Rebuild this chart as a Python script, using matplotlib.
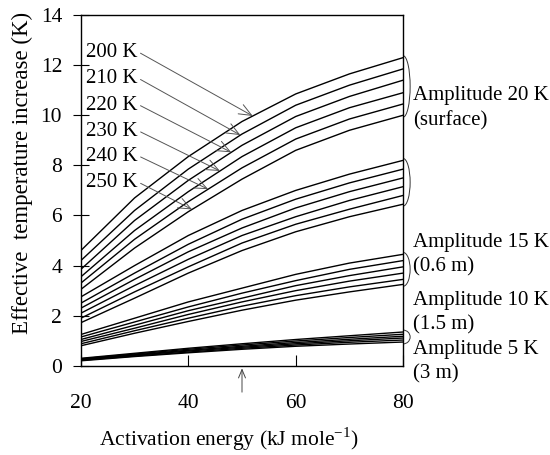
import numpy as np
import matplotlib
matplotlib.use("Agg")
import matplotlib.pyplot as plt
from matplotlib.patches import Arc

plt.rcParams["font.family"] = ["Liberation Serif", "DejaVu Serif"]
plt.rcParams["mathtext.fontset"] = "custom"
plt.rcParams["mathtext.rm"] = "Liberation Serif"

# activation energy (kJ/mol) where the curves were read
energy = [20, 30, 40, 50, 60, 70, 80]
temp_labels = ["200 K", "210 K", "220 K", "230 K", "240 K", "250 K"]

# effective temperature increase (K), one row per mean temperature 200..250 K
amp20 = [
    [4.60, 6.70, 8.35, 9.75, 10.85, 11.65, 12.30],
    [4.20, 6.20, 7.85, 9.25, 10.40, 11.20, 11.85],
    [3.85, 5.80, 7.40, 8.80, 9.95, 10.75, 11.40],
    [3.55, 5.40, 6.95, 8.35, 9.50, 10.30, 10.90],
    [3.30, 5.05, 6.55, 7.90, 9.05, 9.85, 10.45],
    [3.05, 4.70, 6.15, 7.45, 8.60, 9.40, 10.00],
]
amp15 = [
    [2.75, 4.00, 5.20, 6.20, 7.00, 7.65, 8.20],
    [2.50, 3.70, 4.85, 5.85, 6.65, 7.30, 7.85],
    [2.30, 3.45, 4.55, 5.50, 6.30, 6.95, 7.50],
    [2.10, 3.20, 4.25, 5.20, 5.95, 6.60, 7.15],
    [1.90, 2.95, 3.95, 4.90, 5.65, 6.25, 6.80],
    [1.72, 2.70, 3.70, 4.60, 5.35, 5.95, 6.45],
]
amp10 = [
    [1.25, 1.90, 2.55, 3.10, 3.65, 4.10, 4.45],
    [1.15, 1.75, 2.35, 2.90, 3.40, 3.85, 4.20],
    [1.05, 1.62, 2.20, 2.70, 3.20, 3.60, 3.95],
    [0.97, 1.50, 2.05, 2.55, 3.00, 3.38, 3.70],
    [0.88, 1.40, 1.90, 2.38, 2.80, 3.15, 3.45],
    [0.80, 1.30, 1.77, 2.22, 2.62, 2.95, 3.25],
]
amp5 = [
    [0.30, 0.50, 0.70, 0.88, 1.05, 1.20, 1.35],
    [0.28, 0.47, 0.66, 0.83, 0.99, 1.13, 1.26],
    [0.26, 0.44, 0.62, 0.78, 0.93, 1.06, 1.18],
    [0.24, 0.42, 0.59, 0.74, 0.88, 1.00, 1.11],
    [0.22, 0.39, 0.55, 0.70, 0.83, 0.94, 1.03],
    [0.20, 0.37, 0.52, 0.66, 0.78, 0.87, 0.95],
]
groups = [amp20, amp15, amp10, amp5]
group_labels = ["Amplitude 20 K\n(surface)", "Amplitude 15 K\n(0.6 m)",
                "Amplitude 10 K\n(1.5 m)", "Amplitude 5 K\n(3 m)"]

# where each temperature arrow hits its curve of the 20 K group
arrow_x = [52.0, 49.7, 48.0, 45.9, 43.7, 40.7]

fig = plt.figure(figsize=(5.5, 4.55), dpi=100)
ax = fig.add_axes([0.147, 0.196, 0.586, 0.771])

for grp in groups:
    for row in grp:
        ax.plot(energy, row, color="black", lw=1.0)

ax.set_xlim(20, 80)
ax.set_ylim(0, 14)
ax.set_xticks([20, 40, 60, 80])
ax.set_yticks(range(0, 15, 2))
ax.tick_params(axis="x", direction="in", length=8, pad=20, labelsize=15.5)
ax.tick_params(axis="y", direction="inout", length=11, pad=8, labelsize=15.5,
               right=False)
for sp in ax.spines.values():
    sp.set_linewidth(1.0)

ax.set_xlabel("Activation energy (kJ mole$^{\\mathregular{-1}}$)", fontsize=15.5)
ax.xaxis.set_label_coords(0.46, -0.17)
ax.set_ylabel("Effective  temperature increase (K)", fontsize=16.5)
ax.yaxis.set_label_coords(-0.15, 0.55)

# temperature labels with arrows pointing at the 20 K curves
label_y = [12.5, 11.45, 10.4, 9.35, 8.35, 7.3]
for i, lab in enumerate(temp_labels):
    tip_y = np.interp(arrow_x[i], energy, amp20[i])
    ax.annotate(lab, xy=(arrow_x[i], tip_y), xytext=(21.0, label_y[i]),
                ha="left", va="center", fontsize=15,
                arrowprops=dict(arrowstyle="->,head_length=0.6,head_width=0.25",
                                color="#555555", lw=0.7, relpos=(1.0, 0.55),
                                shrinkA=0, shrinkB=0))

# brackets and amplitude labels to the right of the plot
text_y = [10.27, 4.44, 2.12, 0.17]
for grp, lab, ty in zip(groups, group_labels, text_y):
    top = grp[0][-1]
    bot = grp[-1][-1]
    arc = Arc((80, (top + bot) / 2), 2.6, (top - bot) + 0.15, theta1=-90,
              theta2=90, color="#333333", lw=0.7, clip_on=False)
    ax.add_patch(arc)
    ax.text(81.8, ty, lab, ha="left", va="center", fontsize=15,
            linespacing=1.4, clip_on=False)

# marker arrow under the axis at 50 kJ/mole
ax.annotate("", xy=(50, -0.1), xytext=(50, -1.05), xycoords="data",
            arrowprops=dict(arrowstyle="->,head_length=0.6,head_width=0.25",
                            color="#444444", lw=0.7, shrinkA=0, shrinkB=0),
            annotation_clip=False)

fig.savefig("out.png", dpi=100)
